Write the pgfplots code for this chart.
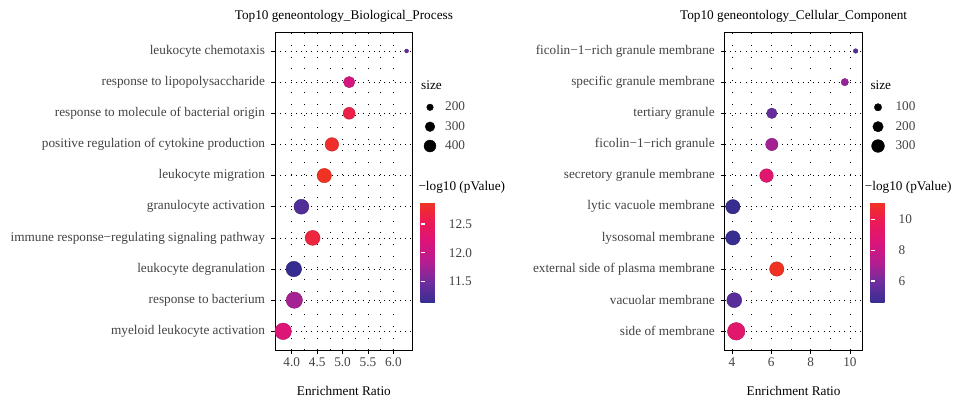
\documentclass[border=0pt]{standalone}
\usepackage{fontspec}
\setmainfont{Liberation Serif}
\usepackage{pgfplots}
\usepackage{pgfplotstable}
\pgfplotsset{compat=1.18}
\definecolor{grey30}{RGB}{66,66,66}
\newcommand\lbl{\fontsize{13.3}{15}\selectfont}

% Biological process: row (bottom = 1), enrichment ratio, gene count, -log10(p)
\pgfplotstableread{
row ratio size logp
1  3.83 663 12.22
2  4.05 650 11.75
3  4.04 598 11.136
4  4.41 562 12.70
5  4.19 562 11.30
6  4.64 527 12.876
7  4.79 482 12.82
8  5.13 400 12.62
9  5.13 372 12.12
10 6.26 145 11.45
}\bptab

% Cellular component
\pgfplotstableread{
row ratio size logp
1  4.22 566 9.0
2  4.12 411 5.4
3  6.28 379 11.10
4  4.05 379 4.62
5  4.05 379 4.59
6  5.76 338 8.9
7  6.03 281 6.9
8  6.03 205 5.7
9  9.74 100 6.6
10 10.29 39 5.3
}\cctab

\pgfplotsset{
  colormap={gocol}{rgb255=(55,45,145) rgb255=(110,45,158) rgb255=(180,30,145)
    rgb255=(218,20,122) rgb255=(236,25,88) rgb255=(240,50,35)},
  gopanel/.style={
    scale only axis, width=137.7bp, height=317.7bp,
    anchor=south west,
    ymin=0.4, ymax=10.6, ytick={1,...,10},
    axis line style={line width=0.9bp},
    tick align=outside, xtick pos=bottom, ytick pos=left,
    major tick length=4bp,
    tick style={black, line width=0.6bp},
    minor x tick num=1, minor tick length=0pt,
    xmajorgrids, xminorgrids, ymajorgrids,
    x grid style={black, line width=0.6bp, dash pattern=on 0.7bp off 11bp},
    y grid style={black, line width=0.6bp, dash pattern=on 0.7bp off 4.5bp},
    tick label style={font=\lbl, text=grey30},
    yticklabel style={xshift=-2.5bp},
    colormap name=gocol,
    colorbar,
    colorbar style={
      at={(parent axis.south east)}, anchor=south west,
      xshift=-0.5bp, yshift=47.3bp,
      scale only axis, width=21.7bp, height=100.4bp,
      axis line style={draw=none},
      tick align=inside, ytick pos=both, yticklabel pos=right,
      major tick length=4.5bp,
      tick style={white, line width=1.1bp},
      yticklabel style={font=\lbl, text=grey30, xshift=3bp},
    },
  },
  dots/.style={scatter, only marks, mark=*, point meta=explicit,
    scatter/@pre marker code/.append style={/tikz/mark size=\rad}},
}

\begin{document}
\begin{tikzpicture}
\useasboundingbox (0,0) rectangle (955bp,400bp);

\begin{axis}[gopanel, at={(275bp,50bp)},
  xmin=3.67, xmax=6.38,
  xtick={4,4.5,5,5.5,6}, xticklabels={4.0,4.5,5.0,5.5,6.0},
  yticklabels={myeloid leukocyte activation, response to bacterium,
    leukocyte degranulation, immune response−regulating signaling pathway,
    granulocyte activation, leukocyte migration,
    positive regulation of cytokine production,
    response to molecule of bacterial origin,
    response to lipopolysaccharide, leukocyte chemotaxis},
  point meta min=11.136, point meta max=12.876,
  colorbar style={ytick={11.5,12,12.5}, yticklabels={11.5,12.0,12.5}}]
\addplot[dots, visualization depends on={0.354*sqrt(\thisrow{size}-113) \as \rad}]
  table[x=ratio, y=row, meta=logp] \bptab;
\end{axis}

\begin{axis}[gopanel, at={(724.8bp,50bp)},
  xmin=3.64, xmax=10.64,
  xtick={4,6,8,10}, xticklabels={4,6,8,10},
  yticklabels={side of membrane, vacuolar membrane,
    external side of plasma membrane, lysosomal membrane,
    lytic vacuole membrane, secretory granule membrane,
    ficolin−1−rich granule, tertiary granule,
    specific granule membrane, ficolin−1−rich granule membrane},
  point meta min=4.59, point meta max=11.10,
  colorbar style={ytick={6,8,10}, yticklabels={6,8,10}}]
\addplot[dots, visualization depends on={0.37*sqrt(\thisrow{size}) \as \rad}]
  table[x=ratio, y=row, meta=logp] \cctab;
\end{axis}

% size keys, on a page-sized hidden axis
\begin{axis}[at={(0bp,0bp)}, anchor=south west, scale only axis,
  width=955bp, height=400bp, xmin=0, xmax=955, ymin=0, ymax=400,
  hide axis, clip=false, colormap name=gocol]
\addplot[scatter/use mapped color={draw=black, fill=black}, dots, point meta=y,
  visualization depends on={0.354*sqrt(\thisrow{size}-113) \as \rad}]
  table[x=x, y=y] {
x y size
430 292.7 200
430 273.3 300
430 254.0 400
};
\addplot[scatter/use mapped color={draw=black, fill=black}, dots, point meta=y,
  visualization depends on={0.37*sqrt(\thisrow{size}) \as \rad}]
  table[x=x, y=y] {
x y size
878 292.7 100
878 273.3 200
878 254.0 300
};
\end{axis}

\begin{scope}[every node/.style={inner sep=0pt, font=\lbl}]
\node[anchor=base] at (343.9bp,380bp) {Top10 geneontology\_Biological\_Process};
\node[anchor=base] at (793.6bp,380bp) {Top10 geneontology\_Cellular\_Component};
\node[anchor=base, text=black] at (343.9bp,4.3bp) {Enrichment Ratio};
\node[anchor=base, text=black] at (793.6bp,4.3bp) {Enrichment Ratio};
\node[anchor=base west] at (421bp,310bp) {size};
\node[anchor=base west] at (870.3bp,310bp) {size};
\node[anchor=base west] at (418.3bp,209bp) {−log10 (pValue)};
\node[anchor=base west] at (864.7bp,209bp) {−log10 (pValue)};
\node[anchor=base west, text=grey30] at (445bp,289.2bp) {200};
\node[anchor=base west, text=grey30] at (445bp,269.8bp) {300};
\node[anchor=base west, text=grey30] at (445bp,250.5bp) {400};
\node[anchor=base west, text=grey30] at (895.3bp,289.2bp) {100};
\node[anchor=base west, text=grey30] at (895.3bp,269.8bp) {200};
\node[anchor=base west, text=grey30] at (895.3bp,250.5bp) {300};
\end{scope}
\end{tikzpicture}
\end{document}
